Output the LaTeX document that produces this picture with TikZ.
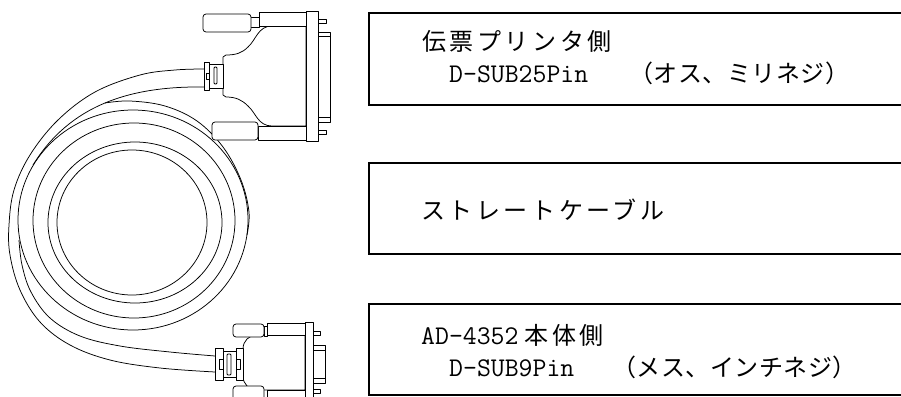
\documentclass[tikz,border=0pt]{standalone}
\usepackage{fontspec}
\newfontfamily\jpfont{Noto Sans CJK JP}[LetterSpace=15]
\newfontfamily\jpnarrow{Noto Sans CJK JP}[LetterSpace=2]
\newcommand\latxt[1]{{\fontsize{27}{30}\selectfont\ttfamily #1}}
\begin{document}
\begin{tikzpicture}[x=1pt,y=-1pt]
\tikzset{
  ln/.style={line width=0.75pt, draw=black, line join=round},
  part/.style={ln, fill=white},
  infobox/.style={draw=black, line width=1.6pt},
  txt/.style={inner sep=0pt, anchor=base west, font=\fontsize{24}{28}\selectfont},
}
\useasboundingbox (0,0) rectangle (901,396);
% ---------- coil ----------
\draw[ln] (132,222.5) ellipse [x radius=75pt, y radius=72.5pt];
\draw[ln] (135,222.5) ellipse [x radius=87pt, y radius=80.5pt];
\draw[ln] (134,220.5) ellipse [x radius=101pt, y radius=97.5pt];
\draw[ln] (133,220) ellipse [x radius=115pt, y radius=110pt];
% outermost edge of cable
\draw[ln] plot[smooth, tension=0.6] coordinates {(215,372) (160,368) (110,360) (70,345) (40,322) (20,290) (10,255) (9,225) (14,190) (30,155) (58,120) (95,92) (140,75) (175,70) (204,69)};
% inner edge, bottom part
\draw[ln] plot[smooth, tension=0.6] coordinates {(215,356) (170,352) (120,346) (80,336) (50,318) (31,292) (22,265) (19,240)};
% inner edge, top part
\draw[ln] (204,87) .. controls (130,86) and (70,105) .. (33,165);
% upper outer loop
\draw[ln] plot[smooth, tension=0.6] coordinates {(105,103) (130,101) (165,106) (197,121) (223,147) (241,180) (249,212) (247,235)};
% ---------- top connector (D-SUB25) ----------
\draw[part] (306,26) -- (272,26) .. controls (258,26) and (256,40) .. (248,47)
   .. controls (242,53) and (236,55) .. (226,55) -- (223,57) -- (223,95) -- (226,97)
   .. controls (236,97) and (242,100) .. (248,106) .. controls (256,113) and (258,126) .. (272,126)
   -- (306,126) -- cycle;
\draw[part] (250,17) rectangle (259,27);
\draw[part, rounded corners=3pt] (203,14) rectangle (251,32);
\draw[part] (259,12) rectangle (306,26);
\draw[part] (258,126) rectangle (306,140);
\draw[part, rounded corners=3pt] (212,122) rectangle (258,140);
\draw[part] (306,11) rectangle (318,141);
\draw[part] (318,19) rectangle (326,23);
\draw[part] (318,130) rectangle (326,134);
\draw[part] (318,32) rectangle (330,122);
\draw[ln] (318,36) -- (330,36);
\draw[ln] (318,117) -- (330,117);
% grommet
\draw[part] (209,64) rectangle (223,88);
\draw[part, rounded corners=1pt] (214,67) rectangle (217,84);
\draw[part] (204,62) rectangle (209,90);
\draw[ln] (209,73) -- (206,73) -- (206,79) -- (209,79);
% ---------- bottom connector (D-SUB9) ----------
\draw[part] (305,335) -- (257,335) .. controls (249,335) and (243,341) .. (243,349) -- (243,376)
   .. controls (243,384) and (249,390) .. (257,390) -- (305,390) -- cycle;
\draw[part] (267,323) rectangle (305,335);
\draw[part] (264,326) rectangle (267,336);
\draw[part, rounded corners=3pt] (233,324) rectangle (264,337);
\draw[part] (267,390) rectangle (305,402);
\draw[part, rounded corners=3pt] (233,386) rectangle (264,400);
\draw[part] (305,322) rectangle (313,402);
\draw[part] (313,331) rectangle (320,335);
\draw[part] (313,389) rectangle (320,393);
\draw[part] (313,345) rectangle (325,383);
\draw[ln] (313,350) -- (325,350);
\draw[ln] (313,378) -- (325,378);
% grommet
\draw[part] (223,351) rectangle (236,377);
\draw[part, rounded corners=1pt] (227,354) rectangle (231,375);
\draw[part] (215,348) rectangle (223,380);
\draw[part] (236,348) rectangle (243,380);
\draw[ln] (223,359) -- (219,359) -- (219,369) -- (223,369);
\draw[ln] (236,359) -- (240,359) -- (240,369) -- (236,369);
% ---------- boxes ----------
\draw[infobox] (369,13) rectangle (912,105);
\draw[infobox] (369,163) rectangle (912,254);
\draw[infobox] (369,304) rectangle (912,395);
\node[txt] (l1) at (422,51) {\jpfont 伝票プリンタ側};
\node[txt] (l2) at (449,82) {\latxt{D-SUB25Pin}\hspace{41pt}\jpnarrow （オス、ミリネジ）};
\node[txt] (l3) at (421,219) {\jpfont ストレートケーブル};
\node[txt] (l4) at (421,344) {\latxt{AD-4352}\hspace{6pt}\jpfont 本体側};
\node[txt] (l5) at (449,376) {\latxt{D-SUB9Pin}\hspace{38pt}\jpnarrow （メス、インチネジ）};
\end{tikzpicture}
\end{document}
